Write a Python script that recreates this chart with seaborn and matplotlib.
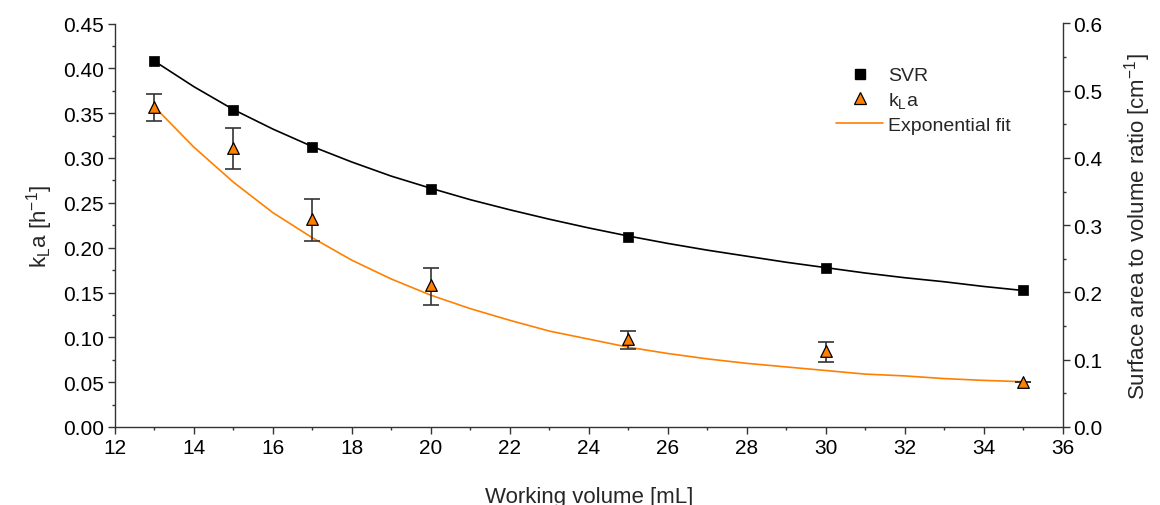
import numpy as np
import pandas as pd
import matplotlib
matplotlib.use('Agg')
import matplotlib.pyplot as plt
from matplotlib.lines import Line2D
from matplotlib.ticker import MultipleLocator, FormatStrFormatter
import seaborn as sns

# measured points
volume = [13, 15, 17, 20, 25, 30, 35]
svr = [0.544, 0.472, 0.417, 0.354, 0.283, 0.236, 0.203]
kla = [0.357, 0.311, 0.232, 0.158, 0.098, 0.085, 0.0505]
kla_lo = [0.341, 0.288, 0.207, 0.136, 0.087, 0.073, 0.0505]
kla_hi = [0.371, 0.333, 0.254, 0.177, 0.107, 0.095, 0.0505]

# curves at every mL
curve_x = list(range(13, 36))
svr_curve = [0.544, 0.506, 0.472, 0.443, 0.417, 0.394, 0.373, 0.355, 0.338, 0.323,
             0.309, 0.296, 0.284, 0.273, 0.263, 0.254, 0.245, 0.237, 0.229, 0.222,
             0.216, 0.209, 0.203]
fit_curve = [0.357, 0.312, 0.273, 0.239, 0.211, 0.186, 0.165, 0.147, 0.132, 0.119,
             0.107, 0.098, 0.089, 0.082, 0.076, 0.071, 0.067, 0.063, 0.059, 0.057,
             0.054, 0.052, 0.0505]

orange = '#FF8000'

sns.set_theme(style='ticks')
plt.rcParams['font.family'] = ['Liberation Sans', 'DejaVu Sans']
plt.rcParams['mathtext.fontset'] = 'custom'
plt.rcParams['mathtext.rm'] = 'Liberation Sans'
plt.rcParams['mathtext.it'] = 'Liberation Sans'

df_pts = pd.DataFrame({'V': volume, 'svr': svr, 'kla': kla})
df_curve = pd.DataFrame({'V': curve_x, 'svr': svr_curve, 'fit': fit_curve})

fig = plt.figure(figsize=(11.6, 5.06), dpi=100)
ax = fig.add_axes([115/1160, 1-428/506, (1062.5-115)/1160, (428-24.5)/506])
ax2 = ax.twinx()

# left axis: kLa + fit
sns.lineplot(data=df_curve, x='V', y='fit', ax=ax, color=orange, lw=1.2, zorder=2)
yerr = [np.array(kla) - np.array(kla_lo), np.array(kla_hi) - np.array(kla)]
ax.errorbar(volume, kla, yerr=yerr, fmt='none', ecolor='#333333', elinewidth=1.2,
            capsize=6, capthick=1.2, zorder=3)
sns.scatterplot(data=df_pts, x='V', y='kla', ax=ax, marker='^', s=70, color=orange,
                edgecolor='black', linewidth=0.9, zorder=4)

# right axis: SVR
sns.lineplot(data=df_curve, x='V', y='svr', ax=ax2, color='black', lw=1.2, zorder=2)
sns.scatterplot(data=df_pts, x='V', y='svr', ax=ax2, marker='s', s=45, color='black',
                edgecolor='black', linewidth=0.5, zorder=4)

ax.set_xlim(12, 36)
ax.set_ylim(0, 0.45)
ax2.set_ylim(0, 0.6)
ax.xaxis.set_major_locator(MultipleLocator(2))
ax.xaxis.set_minor_locator(MultipleLocator(1))
ax.yaxis.set_major_locator(MultipleLocator(0.05))
ax.yaxis.set_minor_locator(MultipleLocator(0.025))
ax2.yaxis.set_major_locator(MultipleLocator(0.1))
ax2.yaxis.set_minor_locator(MultipleLocator(0.05))
ax.yaxis.set_major_formatter(FormatStrFormatter('%.2f'))
ax2.yaxis.set_major_formatter(FormatStrFormatter('%.1f'))

for a in (ax, ax2):
    a.spines['top'].set_visible(False)
    for s in a.spines.values():
        s.set_color('#333333')
        s.set_linewidth(1.0)
    a.tick_params(which='major', direction='out', length=5, width=1.0, color='#333333',
                  labelsize=15, labelcolor='black', pad=3)
    a.tick_params(which='minor', direction='out', length=2.5, width=1.0, color='#333333')
ax.spines['right'].set_visible(False)
ax2.spines['left'].set_visible(False)
ax2.spines['bottom'].set_visible(False)

ax.set_xlabel('Working volume [mL]', fontsize=16, labelpad=21)
ax.set_ylabel(r'k$_\mathregular{L}$a [h$^\mathregular{-1}$]', fontsize=16, labelpad=6)
ax2.set_ylabel(r'Surface area to volume ratio [cm$^\mathregular{-1}$]', fontsize=16, labelpad=14)

handles = [
    Line2D([], [], ls='none', marker='s', ms=6.5, color='black'),
    Line2D([], [], ls='none', marker='^', ms=8, mfc=orange, mec='black', mew=0.9),
    Line2D([], [], color=orange, lw=1.2),
]
labels = ['SVR', r'k$_\mathregular{L}$a', 'Exponential fit']
leg = ax2.legend(handles, labels, loc='upper left', bbox_to_anchor=(826/1160, 1-58/506),
                 bbox_transform=fig.transFigure, frameon=False, fontsize=14,
                 handlelength=2.45, handletextpad=0.25, labelspacing=0.3, borderpad=0)

fig.savefig('out.png', dpi=100)
